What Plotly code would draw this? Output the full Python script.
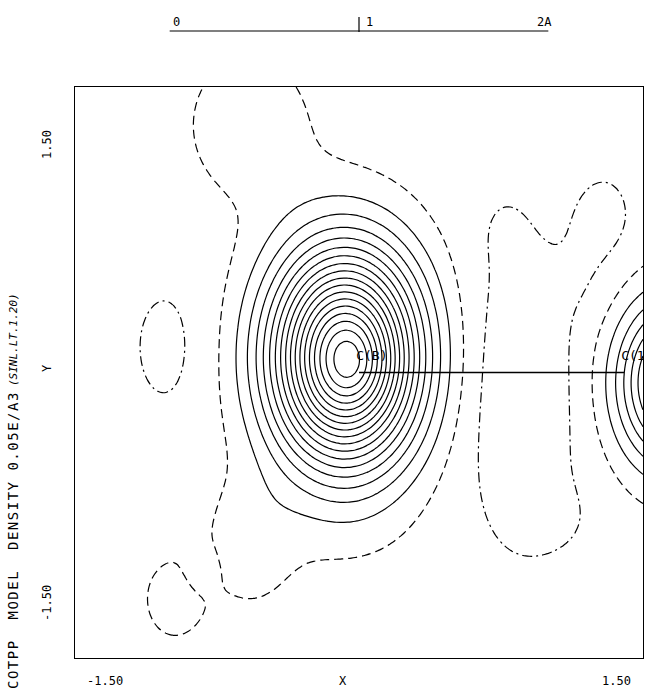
import numpy as np
import plotly.graph_objects as go

# Section limits (Angstrom)
x_range = [-1.5, 1.5]
y_range = [-1.5, 1.5]

# Model density terms: centre (A), peak (e/A^3), widths (A)
term_x = [-0.075, -0.03, 1.68, 1.60, 0.85, 1.30, 0.76, 1.20, 1.05,
          -1.014, -0.975, -0.58, -0.58, -0.84, -0.10]
term_y = [0.080, 0.04, -0.055, -0.05, -0.10, 0.80, 0.75, 0.45, -0.76,
          0.134, -1.19, 1.30, -0.90, -1.04, -0.85]
term_amp = [0.86, 0.06, 0.45, 0.012, -0.060, -0.032, -0.012, -0.012, -0.015,
            -0.030, 0.060, 0.060, 0.055, -0.045, 0.012]
term_sx = [0.265, 0.12, 0.205, 0.20, 0.22, 0.13, 0.10, 0.10, 0.15,
           0.16, 0.12, 0.25, 0.17, 0.06, 0.30]
term_sy = [0.385, 0.15, 0.285, 0.50, 0.55, 0.20, 0.15, 0.15, 0.14,
           0.29, 0.16, 0.30, 0.25, 0.08, 0.20]
base_level = -0.03

contour_step = 0.05

atom_names = ["C(B)", "C(1)"]
atom_x = [0.0, 1.40]
atom_y = [0.0, 0.0]

scale_labels = ["0", "1", "2A"]
scale_pos = [-1.0, 0.0, 1.0]

gx = np.linspace(x_range[0], x_range[1], 151)
gy = np.linspace(y_range[0], y_range[1], 151)
X, Y = np.meshgrid(gx, gy)
rho = np.full_like(X, base_level)
for x0, y0, a, sx, sy in zip(term_x, term_y, term_amp, term_sx, term_sy):
    rho += a * np.exp(-0.5 * ((X - x0) / sx) ** 2 - 0.5 * ((Y - y0) / sy) ** 2)

W, H = 646, 690
L, R, T, B = 75, 3, 87, 32
pw, ph = W - L - R, H - T - B


def px_to_paper(px, py):
    return ((px - L) / pw, (H - B - py) / ph)


fig = go.Figure()

# positive levels solid, zero level dashed, negative levels dash-dot
line_w = 1.2
common = dict(x=gx, y=gy, z=rho, showscale=False, hoverinfo="skip", autocontour=False)
fig.add_trace(go.Contour(**common,
    contours=dict(start=contour_step, end=2.0, size=contour_step, coloring="none"),
    line=dict(color="black", width=line_w, smoothing=0.9)))
fig.add_trace(go.Contour(**common,
    contours=dict(start=0.0, end=0.0, size=contour_step, coloring="none"),
    line=dict(color="black", width=line_w, dash="9px,5px", smoothing=0.9)))
fig.add_trace(go.Contour(**common,
    contours=dict(start=-0.5, end=-contour_step, size=contour_step, coloring="none"),
    line=dict(color="black", width=line_w, dash="10px,4px,2px,4px", smoothing=0.9)))

# bond line and atom labels
fig.add_trace(go.Scatter(x=atom_x, y=atom_y, mode="lines",
    line=dict(color="black", width=1.4), hoverinfo="skip", showlegend=False))
fig.add_trace(go.Scatter(x=[ax - 0.015 for ax in atom_x], y=[ay + 0.085 for ay in atom_y],
    mode="text", text=atom_names, textposition="middle right",
    textfont=dict(family="DejaVu Sans Mono", size=13, color="black"),
    cliponaxis=True, hoverinfo="skip", showlegend=False))

# scale bar above the map
fig.add_shape(type="line", xref="x", yref="paper", x0=scale_pos[0], x1=scale_pos[-1],
    y0=px_to_paper(0, 31)[1], y1=px_to_paper(0, 31)[1], line=dict(color="black", width=1.2))
fig.add_shape(type="line", xref="x", yref="paper", x0=scale_pos[1], x1=scale_pos[1],
    y0=px_to_paper(0, 32)[1], y1=px_to_paper(0, 17)[1], line=dict(color="black", width=1.2))
mono = dict(family="DejaVu Sans Mono", size=12, color="black")
for lab, pos, anc, dx in zip(scale_labels, scale_pos, ["left", "left", "right"], [0.005, 0.025, 0.03]):
    fig.add_annotation(x=pos + dx, y=px_to_paper(0, 22)[1], xref="x", yref="paper",
        text=lab, showarrow=False, xanchor=anc, yanchor="middle", font=mono)

# axis labels
for txt, px in [("-1.50", 105), ("X", 343), ("1.50", 616)]:
    xp, yp = px_to_paper(px, 689)
    fig.add_annotation(x=xp, y=yp, xref="paper", yref="paper", text=txt, showarrow=False,
        xanchor="center", yanchor="bottom", borderpad=0, font=mono)
for txt, py in [("1.50", 145), ("Y", 368), ("-1.50", 603)]:
    xp, yp = px_to_paper(47, py)
    fig.add_annotation(x=xp, y=yp, xref="paper", yref="paper", text=txt, showarrow=False,
        textangle=-90, xanchor="center", yanchor="middle", font=mono)

xp, yp = px_to_paper(13, 540)
fig.add_annotation(x=xp, y=yp, xref="paper", yref="paper",
    text='<span style="letter-spacing:1.5px">COTPP  MODEL  DENSITY 0.05E/A3</span>',
    showarrow=False, textangle=-90, xanchor="center", yanchor="middle", borderpad=0,
    font=dict(family="DejaVu Sans Mono", size=14, color="black"))
xp, yp = px_to_paper(13, 340)
fig.add_annotation(x=xp, y=yp, xref="paper", yref="paper", text="<i>(SINL.LT.1.20)</i>",
    showarrow=False, textangle=-90, xanchor="center", yanchor="middle", borderpad=0,
    font=dict(family="DejaVu Sans Mono", size=11, color="black"))

axis = dict(range=x_range, showgrid=False, zeroline=False, showticklabels=False, ticks="",
            showline=True, mirror=True, linecolor="black", linewidth=1.2)
fig.update_layout(width=W, height=H, margin=dict(l=L, r=R, t=T, b=B, pad=0),
    paper_bgcolor="white", plot_bgcolor="white", showlegend=False,
    xaxis=axis, yaxis=dict(axis, range=y_range))

fig.write_html("out.html")
